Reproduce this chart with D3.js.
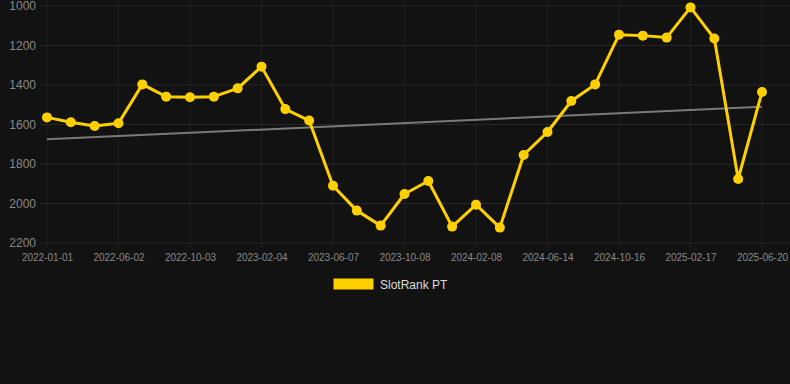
<!DOCTYPE html>
<html><head><meta charset="utf-8">
<script src="https://cdn.jsdelivr.net/npm/d3@7"></script>
<style>
html,body{margin:0;padding:0;background:#121212;}
svg{display:block;}
</style></head>
<body>
<svg id="chart" width="790" height="384"></svg>
<script>
const categories = [
 "2022-01-01","2022-02-20","2022-04-11","2022-06-02","2022-07-13","2022-08-23","2022-10-03","2022-11-13","2022-12-25","2023-02-04",
 "2023-03-17","2023-04-27","2023-06-07","2023-07-18","2023-08-28","2023-10-08","2023-11-18","2023-12-29","2024-02-08","2024-03-20",
 "2024-05-03","2024-06-14","2024-07-25","2024-09-04","2024-10-16","2024-11-26","2025-01-07","2025-02-17","2025-03-30","2025-05-10","2025-06-20"
];
const values = [
 1564,1589,1608,1594,1397,1459,1462,1459,1417,1307,
 1522,1580,1910,2036,2112,1952,1886,2117,2006,2122,
 1754,1638,1481,1397,1145,1150,1160,1007,1165,1876,1435
];
const tickLabels = ["2022-01-01","2022-06-02","2022-10-03","2023-02-04","2023-06-07","2023-10-08","2024-02-08","2024-06-14","2024-10-16","2025-02-17","2025-06-20"];
const yTicks = [1000,1200,1400,1600,1800,2000,2200];
const trendValues = [1675,1510];
const seriesName = "SlotRank PT";

(function(){
const svg = d3.select("#chart");
const W = 790, H = 384;
svg.append("rect").attr("width",W).attr("height",H).attr("fill","#121212");

const pL = 47, pR = 762, pT = 6, pB = 243;
const x = d3.scalePoint().domain(categories).range([pL,pR]);
const y = d3.scaleLinear().domain([1000,2200]).range([pT,pB]);

// grid
const grid = svg.append("g");
grid.selectAll("line.h").data(yTicks).enter().append("line")
  .attr("x1",40).attr("x2",790).attr("y1",d=>y(d)).attr("y2",d=>y(d))
  .attr("stroke","#262626").attr("stroke-width",1);
grid.selectAll("line.v").data(tickLabels).enter().append("line")
  .attr("x1",d=>x(d)).attr("x2",d=>x(d)).attr("y1",0).attr("y2",pB+5)
  .attr("stroke","#1f1f1f").attr("stroke-width",1);

// y axis
const yAxis = d3.axisLeft(y).tickValues(yTicks).tickSize(0).tickPadding(0).tickFormat(d3.format("d"));
const gy = svg.append("g").attr("transform","translate(36,0)").call(yAxis);
gy.select(".domain").remove();
gy.selectAll("text").attr("fill","#888888").style("font-family","Arial, 'Liberation Sans', sans-serif").style("font-size","12px");

// x axis
const xAxis = d3.axisBottom(x).tickValues(tickLabels).tickSize(0).tickPadding(0);
const gx = svg.append("g").attr("transform","translate(0,254)").call(xAxis);
gx.select(".domain").remove();
gx.selectAll("text").attr("fill","#888888").style("font-family","Arial, 'Liberation Sans', sans-serif").style("font-size","10px");

// trend line
svg.append("line")
  .attr("x1",x(categories[0])).attr("x2",x(categories[categories.length-1]))
  .attr("y1",y(trendValues[0])).attr("y2",y(trendValues[1]))
  .attr("stroke","#7a7a7a").attr("stroke-width",2);

// series line
const color = "#FFD000";
svg.append("path").datum(values.map((v,i)=>[categories[i],v]))
  .attr("fill","none").attr("stroke",color).attr("stroke-width",3).attr("stroke-linejoin","round")
  .attr("d",d3.line().x(d=>x(d[0])).y(d=>y(d[1])));
svg.selectAll("circle.pt").data(values).enter().append("circle")
  .attr("cx",(d,i)=>x(categories[i])).attr("cy",d=>y(d)).attr("r",5).attr("fill",color);

// legend
svg.append("rect").attr("x",333.5).attr("y",278.5).attr("width",40).attr("height",11).attr("fill",color);
svg.append("text").attr("x",380).attr("y",289).text(seriesName)
  .attr("fill","#dcdcdc").style("font-family","Arial, 'Liberation Sans', sans-serif").style("font-size","12px");
})();
</script>
</body></html>
